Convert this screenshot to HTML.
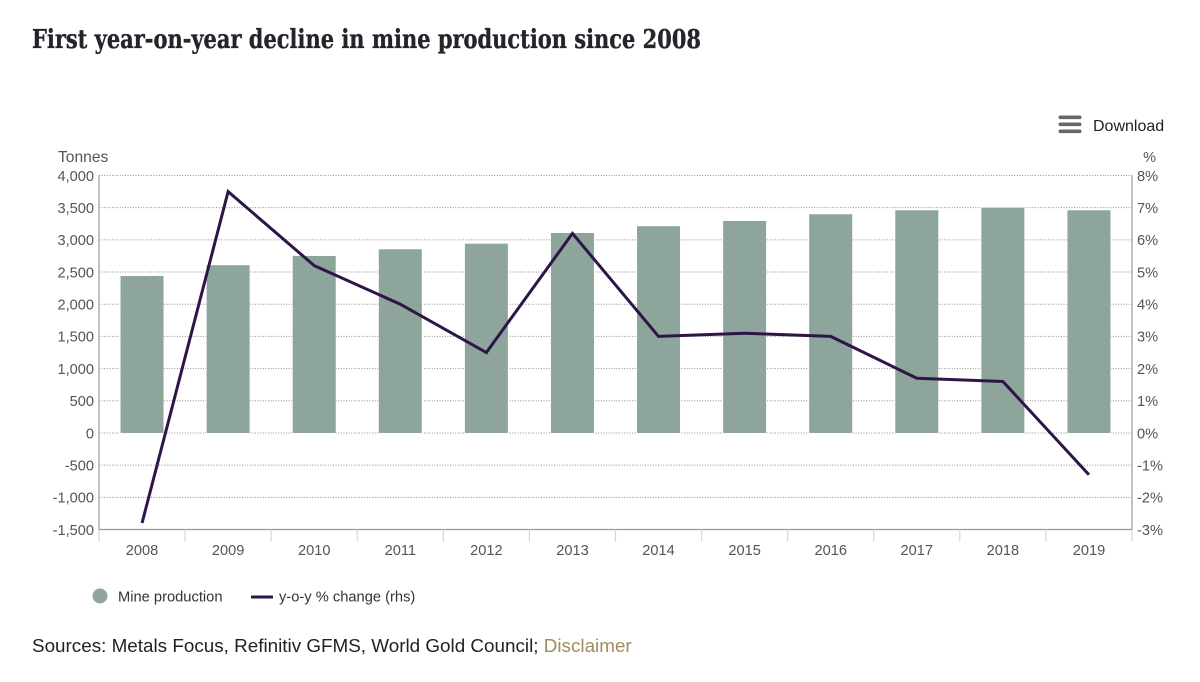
<!DOCTYPE html>
<html lang="en">
<head>
<meta charset="utf-8">
<title>First year-on-year decline in mine production since 2008</title>
<style>
html,body{margin:0;padding:0;background:#fff;}
body{width:1200px;height:682px;overflow:hidden;position:relative;}
svg{display:block;position:absolute;left:0;top:0;}
text{font-family:"Liberation Sans",Arial,sans-serif;}
</style>
</head>
<body>
<svg id="chart" width="1200" height="682" viewBox="0 0 1200 682">
  <text x="32" y="48" font-size="26.5" font-weight="700" fill="#23252b" stroke="#23252b" stroke-width="0.35" textLength="669" lengthAdjust="spacingAndGlyphs" style="font-family:'DejaVu Serif','Liberation Serif',serif">First year-on-year decline in mine production since 2008</text>

  <g>
    <rect x="1058.5" y="115.5" width="23" height="3.6" rx="1.8" fill="#666"/>
    <rect x="1058.5" y="122.5" width="23" height="3.6" rx="1.8" fill="#666"/>
    <rect x="1058.5" y="129.5" width="23" height="3.6" rx="1.8" fill="#666"/>
    <text x="1093" y="131" font-size="16" fill="#222">Download</text>
  </g>

  <text x="58" y="162" font-size="15.6" fill="#555">Tonnes</text>
  <text x="1156" y="162" font-size="14.5" fill="#555" text-anchor="end">%</text>

  <g id="grid"></g>
  <g id="bars"></g>
  <path id="line" fill="none" stroke="#2f1547" stroke-width="3" stroke-linejoin="miter"></path>
  <g id="axes"></g>

  <g>
    <g>
      <circle cx="100" cy="596" r="7.5" fill="#8da59a"/>
      <text x="118" y="601.5" font-size="14.7" fill="#333">Mine production</text>
    </g>
    <g>
      <line x1="251" y1="597" x2="273" y2="597" stroke="#2f1547" stroke-width="3"/>
      <text x="279" y="601.5" font-size="14.7" fill="#333">y-o-y % change (rhs)</text>
    </g>
  </g>

  <text x="32" y="652" font-size="18.85" fill="#222">Sources: Metals Focus, Refinitiv GFMS, World Gold Council; <tspan fill="#a08c5c">Disclaimer</tspan></text>
</svg>
<script>
const categories = ['2008','2009','2010','2011','2012','2013','2014','2015','2016','2017','2018','2019'];
const mineProduction = [2439,2606,2750,2854,2941,3107,3212,3294,3398,3460,3500,3460];
const yoyChange = [-2.8,7.5,5.2,4.0,2.5,6.2,3.0,3.1,3.0,1.7,1.6,-1.3];
const leftTicks = [-1500,-1000,-500,0,500,1000,1500,2000,2500,3000,3500,4000];
const rightTicks = [-3,-2,-1,0,1,2,3,4,5,6,7,8];

const NS = 'http://www.w3.org/2000/svg';
const plot = {left: 99, right: 1132, top: 175.5, bottom: 529.5};
const bandWidth = (plot.right - plot.left) / categories.length;
const xCenter = i => plot.left + bandWidth * (i + 0.5);
const yLeft = v => plot.bottom - (v + 1500) / 5500 * (plot.bottom - plot.top);
const yRight = v => plot.bottom - (v + 3) / 11 * (plot.bottom - plot.top);
const fmt = v => (v < 0 ? '-' : '') + Math.abs(v).toString().replace(/\B(?=(\d{3})+$)/g, ',');
function make(tag, parent, attrs, text) {
  const el = document.createElementNS(NS, tag);
  for (const k in attrs) el.setAttribute(k, attrs[k]);
  if (text !== undefined) el.textContent = text;
  parent.appendChild(el);
  return el;
}
const grid = document.getElementById('grid');
const barsG = document.getElementById('bars');
const axes = document.getElementById('axes');

leftTicks.forEach(t => {
  const y = yLeft(t);
  if (t !== -1500) {
    const gl = make('line', grid, {x1: plot.left, x2: plot.right, y1: y, y2: y, stroke: '#8f8f8f', 'stroke-width': 1, 'stroke-dasharray': '1 1.6'});
    
    
  }
  const lab = make('text', axes, {x: 94, y: y + 5.3, 'font-size': 14.6, fill: '#555', 'text-anchor': 'end'}, fmt(t));
  
  
});
rightTicks.forEach(t => {
  const lab = make('text', axes, {x: 1137, y: yRight(t) + 5.3, 'font-size': 14.6, fill: '#555'}, t + '%');
  
  
});
mineProduction.forEach((v, i) => {
  const top = yLeft(v), base = yLeft(0);
  const bar = make('rect', barsG, {x: xCenter(i) - 21.5, y: top, width: 43, height: base - top, fill: '#8da59a', stroke: '#fff', 'stroke-width': 1, 'paint-order': 'stroke'});
  
  
});
document.getElementById('line').setAttribute('d', yoyChange.map((v, i) => (i ? 'L' : 'M') + xCenter(i).toFixed(2) + ' ' + yRight(v).toFixed(2)).join(' '));

const frame = make('path', axes, {d: `M${plot.left} ${plot.top}V${plot.bottom}H${plot.right}V${plot.top}`, fill: 'none', stroke: '#9a9a9a', 'stroke-width': 1.2});


for (let i = 0; i <= categories.length; i++) {
  const x = plot.left + bandWidth * i;
  const tick = make('line', axes, {x1: x, x2: x, y1: plot.bottom, y2: plot.bottom + 12, stroke: '#ccd6eb', 'stroke-width': 1.2});
  
  
}
categories.forEach((c, i) => {
  const lab = make('text', axes, {x: xCenter(i), y: 555, 'font-size': 14.6, fill: '#555', 'text-anchor': 'middle'}, c);
  
  
});
</script>
</body>
</html>
